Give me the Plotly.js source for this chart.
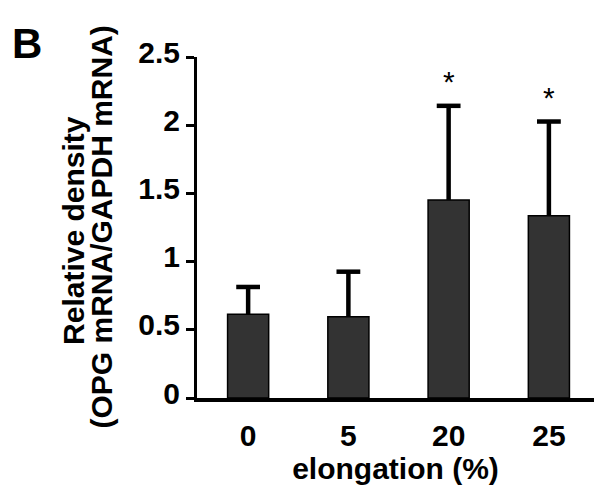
<!DOCTYPE html>
<html>
<head>
<meta charset="utf-8">
<script src="https://cdn.plot.ly/plotly-3.0.1.min.js"></script>
<style>
html,body{margin:0;padding:0;background:#fff;}
#chart{width:594px;height:496px;}
</style>
</head>
<body>
<div id="chart"></div>
<script>
// Data
const categories = ['0', '5', '20', '25'];
const meanValues = [0.614, 0.596, 1.452, 1.337];
const errorUp = [0.20, 0.33, 0.69, 0.69];
const significance = ['', '', '*', '*'];
const panelLabel = 'B';
const xTitle = 'elongation (%)';
const yTitleLines = ['Relative density', '(OPG mRNA/GAPDH mRNA)'];
const yTickVals = [0, 0.5, 1, 1.5, 2, 2.5];
const yTickText = ['0', '0.5', '1', '1.5', '2', '2.5'];

const FONT = 'Liberation Sans, Arial, sans-serif';
const idx = categories.map((c, i) => i);
const tops = meanValues.map((m, i) => m + errorUp[i]);
const zeros = meanValues.map(() => 0);

// Bars
const barTrace = {
  type: 'bar',
  x: categories,
  y: meanValues,
  width: 0.41,
  marker: {color: '#333333', line: {color: '#000', width: 1.5}},
  showlegend: false
};
// Error-bar stems (upward only, no caps) drawn from the bar top
const stemTrace = {
  type: 'scatter', mode: 'none',
  x: categories, y: tops,
  error_y: {
    type: 'data', symmetric: false,
    array: zeros, arrayminus: errorUp,
    color: '#000', thickness: 4.5, width: 0
  },
  showlegend: false
};
// Error-bar caps
const capTrace = {
  type: 'scatter', mode: 'markers',
  x: categories, y: tops,
  marker: {symbol: 'line-ew', size: 17, line: {color: '#000', width: 4.5}},
  showlegend: false
};

const annotations = [];
idx.forEach(i => {
  if (significance[i]) {
    annotations.push({
      x: i, y: tops[i], xref: 'x', yref: 'y',
      text: significance[i], showarrow: false, yshift: 24,
      font: {family: FONT, size: 30, color: '#000', weight: 'normal'}
    });
  }
});
annotations.push({
  xref: 'paper', yref: 'paper', x: -0.428, y: 1.041,
  xanchor: 'center', yanchor: 'middle',
  text: panelLabel, showarrow: false,
  font: {family: FONT, size: 42, color: '#000', weight: 'bold'}
});
// Y-axis title, two tightly spaced lines
annotations.push({
  xref: 'paper', yref: 'paper', x: (74 - 197) / 397, y: 0.49,
  xanchor: 'center', yanchor: 'middle', textangle: -90,
  text: yTitleLines[0], showarrow: false,
  font: {family: FONT, size: 30, color: '#000', weight: 'bold'}
});
annotations.push({
  xref: 'paper', yref: 'paper', x: (101 - 197) / 397, y: 0.50,
  xanchor: 'center', yanchor: 'middle', textangle: -90,
  text: yTitleLines[1], showarrow: false,
  font: {family: FONT, size: 30, color: '#000', weight: 'bold'}
});

const layout = {
  width: 594, height: 496,
  margin: {l: 197, r: 0, t: 57, b: 98},
  paper_bgcolor: '#fff', plot_bgcolor: '#fff',
  font: {family: FONT, size: 30, color: '#000', weight: 'bold'},
  xaxis: {
    type: 'category',
    range: [-0.51, 3.45],
    showline: true, linecolor: '#000', linewidth: 3.5,
    ticks: '', showgrid: false, zeroline: false,
    ticklabelstandoff: 8,
    tickfont: {family: FONT, size: 30, weight: 'bold'},
    title: {text: xTitle, standoff: 2, font: {family: FONT, size: 30, weight: 'bold'}}
  },
  yaxis: {
    range: [0, 2.5],
    tickvals: yTickVals, ticktext: yTickText,
    showline: true, linecolor: '#000', linewidth: 3,
    ticks: 'outside', ticklen: 8, tickwidth: 3, tickcolor: '#000',
    showgrid: false, zeroline: false,
    ticklabelshift: -5,
    tickfont: {family: FONT, size: 30, weight: 'bold'}
  },
  annotations: annotations
};

Plotly.newPlot('chart', [barTrace, stemTrace, capTrace], layout, {displayModeBar: false, staticPlot: true});
</script>
</body>
</html>
